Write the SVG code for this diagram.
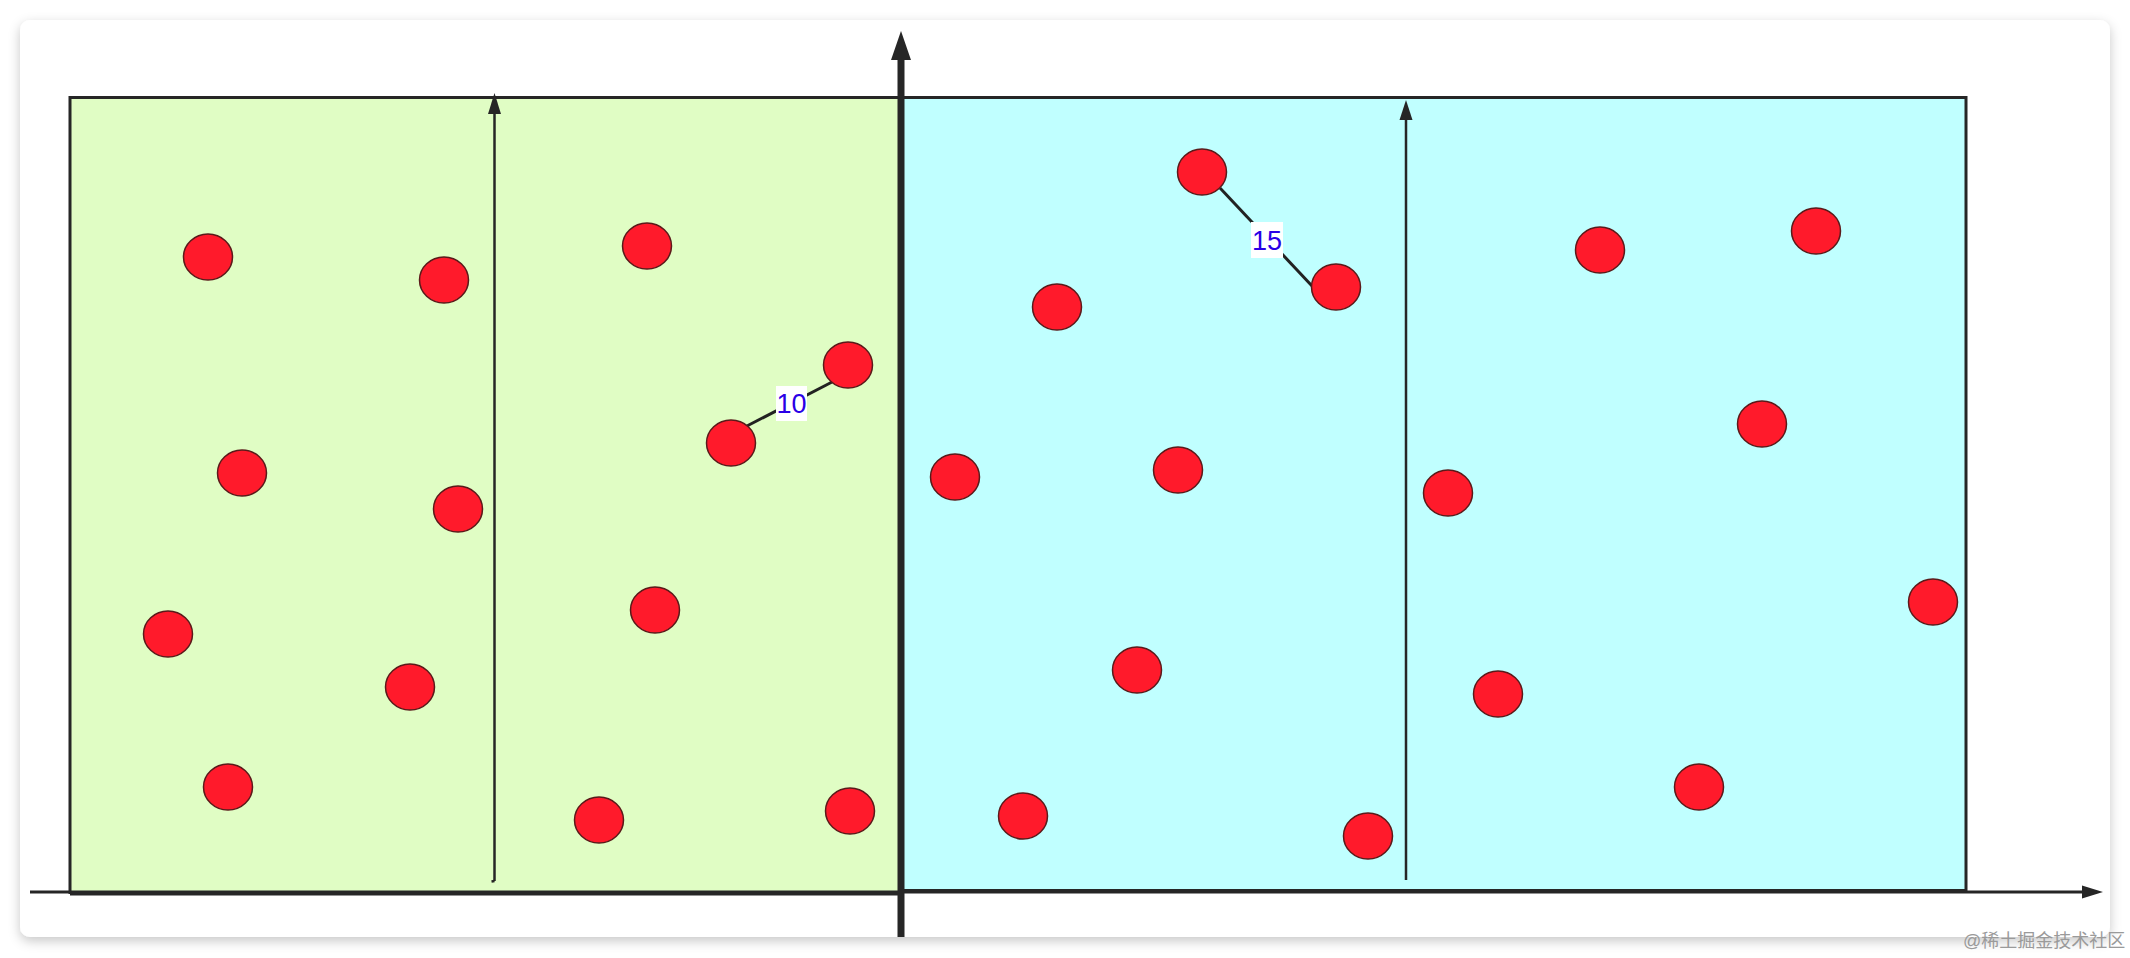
<svg xmlns="http://www.w3.org/2000/svg" width="2130" height="958" viewBox="0 0 2130 958">
<style>
.dot{fill:#FF1A2B;stroke:#5A1A1A;stroke-width:1.5}
.lbl{font-family:"Liberation Sans",Arial,sans-serif;font-size:27px;fill:#2A00E6;text-anchor:middle}
.edge{stroke:#222;stroke-width:3;fill:none}
.wm{font-family:"Liberation Sans","Noto Sans CJK SC",sans-serif;font-size:18px;fill:#9a9a9a}
</style>
<defs>
<filter id="sh" x="-5%" y="-5%" width="110%" height="115%">
<feDropShadow dx="0" dy="4" stdDeviation="6" flood-color="#000" flood-opacity="0.22"/>
</filter>
</defs>
<rect width="2130" height="958" fill="#ffffff"/>
<rect x="20" y="20" width="2090" height="917" rx="10" fill="#ffffff" filter="url(#sh)"/>
<g id="regionA">
<rect x="70" y="97.5" width="830" height="795" fill="#E0FDC4" stroke="#262626" stroke-width="3"/>
<line x1="70" y1="893.5" x2="900" y2="893.5" stroke="#262626" stroke-width="4"/>
</g>
<g id="regionB">
<rect x="900" y="97.5" width="1066" height="793" fill="#C0FFFF" stroke="#262626" stroke-width="3"/>
</g>
<g id="axes">
<line x1="30" y1="892" x2="2084" y2="892" stroke="#262626" stroke-width="3"/>
<polygon points="2103,892 2082,885.5 2082,898.5" fill="#262626"/>
<line x1="901" y1="937" x2="901" y2="57" stroke="#262626" stroke-width="7"/>
<polygon points="901,31 891,60 911,60" fill="#262626"/>
<line x1="494.5" y1="881" x2="494.5" y2="112" stroke="#262626" stroke-width="2.5"/>
<polygon points="494.5,93 488,114 501,114" fill="#262626"/>
<path d="M494.5 881 L491.5 881.5" stroke="#262626" stroke-width="2.5"/>
<line x1="1406" y1="880" x2="1406" y2="117" stroke="#262626" stroke-width="2.5"/>
<polygon points="1406,100 1399.5,120 1412.5,120" fill="#262626"/>
</g>
<g id="connectors">
<line class="edge" x1="745" y1="427" x2="834" y2="381"/>
<line class="edge" x1="1220" y1="188" x2="1313" y2="287"/>
</g>
<g id="labels">
<rect x="776" y="386" width="31" height="35" fill="#ffffff"/>
<text class="lbl" x="791.5" y="413">10</text>
<rect x="1251" y="222" width="32" height="36" fill="#ffffff"/>
<text class="lbl" x="1267" y="250">15</text>
</g>
<g id="dots">
<ellipse id="n1" class="dot" cx="208" cy="257" rx="24.5" ry="23"/>
<ellipse id="n2" class="dot" cx="444" cy="280" rx="24.5" ry="23"/>
<ellipse id="n3" class="dot" cx="647" cy="246" rx="24.5" ry="23"/>
<ellipse id="n4" class="dot" cx="848" cy="365" rx="24.5" ry="23"/>
<ellipse id="n5" class="dot" cx="731" cy="443" rx="24.5" ry="23"/>
<ellipse id="n6" class="dot" cx="242" cy="473" rx="24.5" ry="23"/>
<ellipse id="n7" class="dot" cx="458" cy="509" rx="24.5" ry="23"/>
<ellipse id="n8" class="dot" cx="168" cy="634" rx="24.5" ry="23"/>
<ellipse id="n9" class="dot" cx="655" cy="610" rx="24.5" ry="23"/>
<ellipse id="n10" class="dot" cx="410" cy="687" rx="24.5" ry="23"/>
<ellipse id="n11" class="dot" cx="228" cy="787" rx="24.5" ry="23"/>
<ellipse id="n12" class="dot" cx="599" cy="820" rx="24.5" ry="23"/>
<ellipse id="n13" class="dot" cx="850" cy="811" rx="24.5" ry="23"/>
<ellipse id="n14" class="dot" cx="1202" cy="172" rx="24.5" ry="23"/>
<ellipse id="n15" class="dot" cx="1336" cy="287" rx="24.5" ry="23"/>
<ellipse id="n16" class="dot" cx="1057" cy="307" rx="24.5" ry="23"/>
<ellipse id="n17" class="dot" cx="955" cy="477" rx="24.5" ry="23"/>
<ellipse id="n18" class="dot" cx="1178" cy="470" rx="24.5" ry="23"/>
<ellipse id="n19" class="dot" cx="1137" cy="670" rx="24.5" ry="23"/>
<ellipse id="n20" class="dot" cx="1023" cy="816" rx="24.5" ry="23"/>
<ellipse id="n21" class="dot" cx="1368" cy="836" rx="24.5" ry="23"/>
<ellipse id="n22" class="dot" cx="1600" cy="250" rx="24.5" ry="23"/>
<ellipse id="n23" class="dot" cx="1816" cy="231" rx="24.5" ry="23"/>
<ellipse id="n24" class="dot" cx="1762" cy="424" rx="24.5" ry="23"/>
<ellipse id="n25" class="dot" cx="1448" cy="493" rx="24.5" ry="23"/>
<ellipse id="n26" class="dot" cx="1933" cy="602" rx="24.5" ry="23"/>
<ellipse id="n27" class="dot" cx="1498" cy="694" rx="24.5" ry="23"/>
<ellipse id="n28" class="dot" cx="1699" cy="787" rx="24.5" ry="23"/>
</g>
<text class="wm" x="1963" y="947">@稀土掘金技术社区</text>
</svg>
